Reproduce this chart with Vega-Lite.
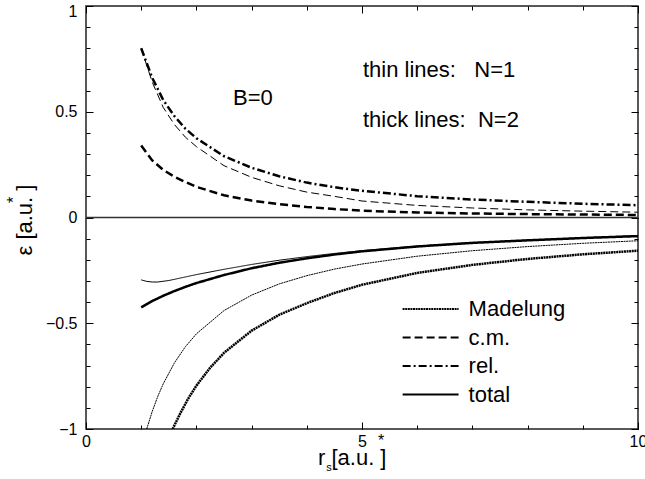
{
  "$schema": "https://vega.github.io/schema/vega-lite/v6.json",
  "width": 552,
  "height": 423,
  "autosize": "none",
  "padding": {"left": 86, "top": 6, "right": 7, "bottom": 50},
  "background": "white",
  "config": {
    "view": {"stroke": "#222", "strokeWidth": 1.5},
    "font": "Liberation Sans",
    "axis": {"grid": false, "domain": false, "labelColor": "black", "labelFontSize": 16, "labelFont": "Liberation Sans", "title": null}
  },
  "datasets": {
    "curves": [
      {"comp": "rel.", "N": 2, "x": 1, "y": 0.8}, {"comp": "rel.", "N": 2, "x": 1.2, "y": 0.66}, {"comp": "rel.", "N": 2, "x": 1.4, "y": 0.555}, {"comp": "rel.", "N": 2, "x": 1.6, "y": 0.48}, {"comp": "rel.", "N": 2, "x": 1.8, "y": 0.42}, {"comp": "rel.", "N": 2, "x": 2, "y": 0.375}, {"comp": "rel.", "N": 2, "x": 2.5, "y": 0.29}, {"comp": "rel.", "N": 2, "x": 3, "y": 0.235}, {"comp": "rel.", "N": 2, "x": 3.5, "y": 0.195}, {"comp": "rel.", "N": 2, "x": 4, "y": 0.165}, {"comp": "rel.", "N": 2, "x": 4.5, "y": 0.143}, {"comp": "rel.", "N": 2, "x": 5, "y": 0.126}, {"comp": "rel.", "N": 2, "x": 6, "y": 0.101}, {"comp": "rel.", "N": 2, "x": 7, "y": 0.085}, {"comp": "rel.", "N": 2, "x": 8, "y": 0.074}, {"comp": "rel.", "N": 2, "x": 9, "y": 0.065}, {"comp": "rel.", "N": 2, "x": 10, "y": 0.058},
      {"comp": "c.m.", "N": 1, "x": 1, "y": 0.8}, {"comp": "c.m.", "N": 1, "x": 1.2, "y": 0.64}, {"comp": "c.m.", "N": 1, "x": 1.4, "y": 0.52}, {"comp": "c.m.", "N": 1, "x": 1.6, "y": 0.44}, {"comp": "c.m.", "N": 1, "x": 1.8, "y": 0.38}, {"comp": "c.m.", "N": 1, "x": 2, "y": 0.335}, {"comp": "c.m.", "N": 1, "x": 2.5, "y": 0.245}, {"comp": "c.m.", "N": 1, "x": 3, "y": 0.19}, {"comp": "c.m.", "N": 1, "x": 3.5, "y": 0.15}, {"comp": "c.m.", "N": 1, "x": 4, "y": 0.12}, {"comp": "c.m.", "N": 1, "x": 4.5, "y": 0.1}, {"comp": "c.m.", "N": 1, "x": 5, "y": 0.078}, {"comp": "c.m.", "N": 1, "x": 6, "y": 0.057}, {"comp": "c.m.", "N": 1, "x": 7, "y": 0.045}, {"comp": "c.m.", "N": 1, "x": 8, "y": 0.036}, {"comp": "c.m.", "N": 1, "x": 9, "y": 0.03}, {"comp": "c.m.", "N": 1, "x": 10, "y": 0.025},
      {"comp": "c.m.", "N": 2, "x": 1, "y": 0.34}, {"comp": "c.m.", "N": 2, "x": 1.2, "y": 0.27}, {"comp": "c.m.", "N": 2, "x": 1.4, "y": 0.225}, {"comp": "c.m.", "N": 2, "x": 1.6, "y": 0.193}, {"comp": "c.m.", "N": 2, "x": 1.8, "y": 0.168}, {"comp": "c.m.", "N": 2, "x": 2, "y": 0.145}, {"comp": "c.m.", "N": 2, "x": 2.5, "y": 0.105}, {"comp": "c.m.", "N": 2, "x": 3, "y": 0.08}, {"comp": "c.m.", "N": 2, "x": 3.5, "y": 0.063}, {"comp": "c.m.", "N": 2, "x": 4, "y": 0.05}, {"comp": "c.m.", "N": 2, "x": 4.5, "y": 0.04}, {"comp": "c.m.", "N": 2, "x": 5, "y": 0.032}, {"comp": "c.m.", "N": 2, "x": 6, "y": 0.024}, {"comp": "c.m.", "N": 2, "x": 7, "y": 0.019}, {"comp": "c.m.", "N": 2, "x": 8, "y": 0.016}, {"comp": "c.m.", "N": 2, "x": 9, "y": 0.014}, {"comp": "c.m.", "N": 2, "x": 10, "y": 0.012},
      {"comp": "total", "N": 1, "x": 1, "y": -0.295}, {"comp": "total", "N": 1, "x": 1.1, "y": -0.302}, {"comp": "total", "N": 1, "x": 1.2, "y": -0.305}, {"comp": "total", "N": 1, "x": 1.3, "y": -0.305}, {"comp": "total", "N": 1, "x": 1.5, "y": -0.298}, {"comp": "total", "N": 1, "x": 1.75, "y": -0.284}, {"comp": "total", "N": 1, "x": 2, "y": -0.27}, {"comp": "total", "N": 1, "x": 2.5, "y": -0.245}, {"comp": "total", "N": 1, "x": 3, "y": -0.222}, {"comp": "total", "N": 1, "x": 3.5, "y": -0.202}, {"comp": "total", "N": 1, "x": 4, "y": -0.185}, {"comp": "total", "N": 1, "x": 4.5, "y": -0.17}, {"comp": "total", "N": 1, "x": 5, "y": -0.157}, {"comp": "total", "N": 1, "x": 6, "y": -0.135}, {"comp": "total", "N": 1, "x": 7, "y": -0.119}, {"comp": "total", "N": 1, "x": 8, "y": -0.107}, {"comp": "total", "N": 1, "x": 9, "y": -0.096}, {"comp": "total", "N": 1, "x": 10, "y": -0.086},
      {"comp": "total", "N": 2, "x": 1, "y": -0.425}, {"comp": "total", "N": 2, "x": 1.2, "y": -0.395}, {"comp": "total", "N": 2, "x": 1.4, "y": -0.37}, {"comp": "total", "N": 2, "x": 1.6, "y": -0.348}, {"comp": "total", "N": 2, "x": 1.8, "y": -0.328}, {"comp": "total", "N": 2, "x": 2, "y": -0.31}, {"comp": "total", "N": 2, "x": 2.5, "y": -0.272}, {"comp": "total", "N": 2, "x": 3, "y": -0.24}, {"comp": "total", "N": 2, "x": 3.5, "y": -0.214}, {"comp": "total", "N": 2, "x": 4, "y": -0.193}, {"comp": "total", "N": 2, "x": 4.5, "y": -0.175}, {"comp": "total", "N": 2, "x": 5, "y": -0.16}, {"comp": "total", "N": 2, "x": 6, "y": -0.137}, {"comp": "total", "N": 2, "x": 7, "y": -0.12}, {"comp": "total", "N": 2, "x": 8, "y": -0.108}, {"comp": "total", "N": 2, "x": 9, "y": -0.097}, {"comp": "total", "N": 2, "x": 10, "y": -0.088},
      {"comp": "Madelung", "N": 1, "x": 1.1, "y": -1.0}, {"comp": "Madelung", "N": 1, "x": 1.2, "y": -0.917}, {"comp": "Madelung", "N": 1, "x": 1.3, "y": -0.846}, {"comp": "Madelung", "N": 1, "x": 1.4, "y": -0.786}, {"comp": "Madelung", "N": 1, "x": 1.6, "y": -0.688}, {"comp": "Madelung", "N": 1, "x": 1.8, "y": -0.611}, {"comp": "Madelung", "N": 1, "x": 2, "y": -0.55}, {"comp": "Madelung", "N": 1, "x": 2.5, "y": -0.44}, {"comp": "Madelung", "N": 1, "x": 3, "y": -0.367}, {"comp": "Madelung", "N": 1, "x": 3.5, "y": -0.314}, {"comp": "Madelung", "N": 1, "x": 4, "y": -0.275}, {"comp": "Madelung", "N": 1, "x": 4.5, "y": -0.244}, {"comp": "Madelung", "N": 1, "x": 5, "y": -0.22}, {"comp": "Madelung", "N": 1, "x": 6, "y": -0.183}, {"comp": "Madelung", "N": 1, "x": 7, "y": -0.157}, {"comp": "Madelung", "N": 1, "x": 8, "y": -0.1375}, {"comp": "Madelung", "N": 1, "x": 9, "y": -0.122}, {"comp": "Madelung", "N": 1, "x": 10, "y": -0.11},
      {"comp": "Madelung", "N": 2, "x": 1.57, "y": -1.0}, {"comp": "Madelung", "N": 2, "x": 1.7, "y": -0.93}, {"comp": "Madelung", "N": 2, "x": 1.85, "y": -0.857}, {"comp": "Madelung", "N": 2, "x": 2, "y": -0.795}, {"comp": "Madelung", "N": 2, "x": 2.25, "y": -0.71}, {"comp": "Madelung", "N": 2, "x": 2.5, "y": -0.64}, {"comp": "Madelung", "N": 2, "x": 3, "y": -0.535}, {"comp": "Madelung", "N": 2, "x": 3.5, "y": -0.46}, {"comp": "Madelung", "N": 2, "x": 4, "y": -0.405}, {"comp": "Madelung", "N": 2, "x": 4.5, "y": -0.357}, {"comp": "Madelung", "N": 2, "x": 5, "y": -0.318}, {"comp": "Madelung", "N": 2, "x": 6, "y": -0.262}, {"comp": "Madelung", "N": 2, "x": 7, "y": -0.224}, {"comp": "Madelung", "N": 2, "x": 8, "y": -0.196}, {"comp": "Madelung", "N": 2, "x": 9, "y": -0.174}, {"comp": "Madelung", "N": 2, "x": 10, "y": -0.157}
    ],
    "one": [{}]
  },
  "resolve": {"axis": {"x": "independent", "y": "independent"}},
  "layer": [
    {
      "data": {"name": "one"},
      "mark": {"type": "rule", "color": "#333", "strokeWidth": 1.5},
      "encoding": {"y": {"datum": 0, "type": "quantitative", "axis": null}}
    },
    {
      "data": {"name": "curves"},
      "mark": {"type": "line", "color": "black", "clip": true},
      "encoding": {
        "x": {"field": "x", "type": "quantitative", "scale": {"domain": [0, 10], "nice": false, "zero": false},
              "axis": {"orient": "bottom", "values": [0, 5, 10], "ticks": false, "labelPadding": 4, "labelFlush": false}},
        "y": {"field": "y", "type": "quantitative", "scale": {"domain": [-1, 1], "nice": false, "zero": false},
              "axis": {"orient": "left", "values": [-1, -0.5, 0, 0.5], "ticks": false, "labelPadding": 9, "format": "~g"}},
        "strokeDash": {"field": "comp", "type": "nominal",
          "scale": {"domain": ["Madelung", "c.m.", "rel.", "total"], "range": [[2, 0.6], [8, 4], [8, 3, 2, 3], [1, 0]]},
          "legend": {"orient": "none", "legendX": 333.6, "legendY": 292, "title": null, "symbolType": "M-3,0H3", "symbolSize": 348, "symbolStrokeWidth": 2, "symbolStrokeColor": "black", "labelFontSize": 22, "labelFont": "Liberation Sans", "labelColor": "black", "labelOffset": 27, "rowPadding": 6.5, "padding": 0}},
        "strokeWidth": {"field": "N", "type": "ordinal", "scale": {"domain": [1, 2], "range": [1, 2.5]}, "legend": null}
      }
    },
    {
      "data": {"name": "one"},
      "mark": {"type": "text", "text": "B=0", "fontSize": 22, "align": "left", "baseline": "middle", "color": "black"},
      "encoding": {
        "x": {"datum": 2.663, "type": "quantitative", "axis": {"orient": "bottom", "values": [0,1,2,3,4,5,6,7,8,9,10], "labels": false, "ticks": false, "grid": true, "gridColor": "black", "gridWidth": 1, "gridOpacity": 1, "gridDash": [4, 415, 4, 0]}},
        "y": {"datum": 0.565, "type": "quantitative", "axis": {"orient": "left", "values": [-1,-0.9,-0.8,-0.7,-0.6,-0.5,-0.4,-0.3,-0.2,-0.1,0,0.1,0.2,0.3,0.4,0.5,0.6,0.7,0.8,0.9,1], "labels": false, "ticks": false, "grid": true, "gridColor": "black", "gridWidth": 1, "gridOpacity": 1, "gridDash": [4, 544, 4, 0]}}
      }
    },
    {
      "data": {"name": "one"},
      "mark": {"type": "text", "text": "thin lines:\u00a0\u00a0 N=1", "fontSize": 22, "align": "left", "baseline": "middle", "color": "black"},
      "encoding": {
        "x": {"datum": 5.018, "type": "quantitative", "axis": null},
        "y": {"datum": 0.697, "type": "quantitative", "axis": null}
      }
    },
    {
      "data": {"name": "one"},
      "mark": {"type": "text", "text": "thick lines:\u00a0 N=2", "fontSize": 22, "align": "left", "baseline": "middle", "color": "black"},
      "encoding": {
        "x": {"datum": 5.018, "type": "quantitative", "axis": {"orient": "bottom", "values": [0, 5, 10], "labels": false, "ticks": false, "grid": true, "gridColor": "black", "gridWidth": 1, "gridOpacity": 1, "gridDash": [7, 409, 7, 0]}},
        "y": {"datum": 0.461, "type": "quantitative", "axis": {"orient": "left", "values": [-1, -0.5, 0, 0.5, 1], "labels": false, "ticks": false, "grid": true, "gridColor": "black", "gridWidth": 1, "gridOpacity": 1, "gridDash": [7, 538, 7, 0]}}
      }
    },
    {
      "data": {"name": "one"},
      "mark": {"type": "text", "text": "r\u00a0[a.u.\u00a0]", "fontSize": 22, "align": "left", "baseline": "alphabetic", "color": "black"},
      "encoding": {
        "x": {"datum": 4.203, "type": "quantitative", "axis": null},
        "y": {"datum": -1.17, "type": "quantitative", "axis": null}
      }
    },
    {
      "data": {"name": "one"},
      "mark": {"type": "text", "text": "s", "fontSize": 11, "align": "center", "baseline": "alphabetic", "color": "black"},
      "encoding": {
        "x": {"datum": 4.4, "type": "quantitative", "axis": null},
        "y": {"datum": -1.199, "type": "quantitative", "axis": {"orient": "left", "values": [1], "ticks": false, "labelPadding": 9, "labelOffset": 5, "format": "~g"}}
      }
    },
    {
      "data": {"name": "one"},
      "mark": {"type": "text", "text": "*", "fontSize": 16, "align": "center", "baseline": "alphabetic", "color": "black"},
      "encoding": {
        "x": {"datum": 5.344, "type": "quantitative", "axis": null},
        "y": {"datum": -1.08, "type": "quantitative", "axis": null}
      }
    },
    {
      "data": {"name": "one"},
      "mark": {"type": "text", "text": "ε [a.u.\u00a0]", "fontSize": 22, "angle": 270, "align": "center", "baseline": "alphabetic", "color": "black"},
      "encoding": {
        "x": {"datum": -0.978, "type": "quantitative", "axis": null},
        "y": {"datum": -0.012, "type": "quantitative", "axis": null}
      }
    },
    {
      "data": {"name": "one"},
      "mark": {"type": "text", "text": "*", "fontSize": 16, "angle": 270, "align": "center", "baseline": "alphabetic", "color": "black"},
      "encoding": {
        "x": {"datum": -1.21, "type": "quantitative", "axis": null},
        "y": {"datum": 0.083, "type": "quantitative", "axis": null}
      }
    }
  ]
}
